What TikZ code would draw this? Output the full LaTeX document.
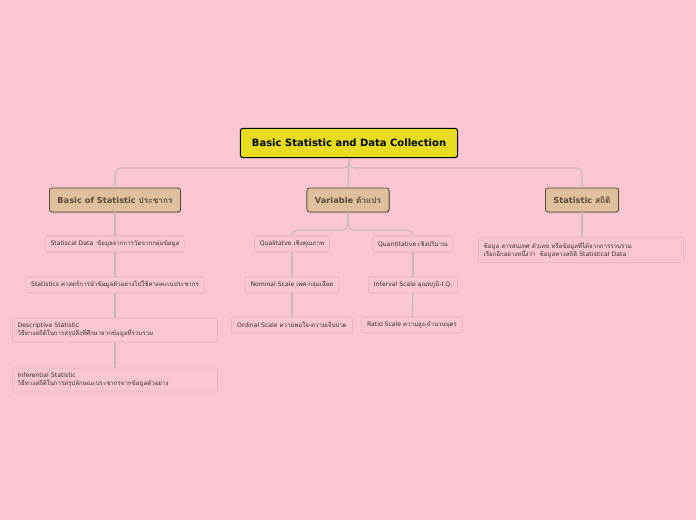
\documentclass[tikz,border=0pt]{standalone}
\usepackage{fontspec}
\setmainfont{DejaVu Sans}
\newfontfamily\thaifont[Script=Thai]{Loma}
\newcommand{\thx}[1]{{\thaifont #1}}
\usetikzlibrary{positioning,shadows}
\definecolor{bgpink}{HTML}{F9C6D1}
\definecolor{rootfill}{HTML}{E8DC1E}
\definecolor{mainfill}{HTML}{E0C09C}
\definecolor{mainline}{HTML}{5A4A3A}
\definecolor{leafline}{HTML}{E6AEBB}
\definecolor{linkgrey}{HTML}{C8B8BC}
\tikzset{
    rootbox/.style={draw=black, fill=rootfill, rounded corners=2pt, line width=0.8pt, minimum width=163pt, minimum height=22pt, font=\bfseries\fontsize{7.5}{9}\selectfont},
    mainbox/.style={draw=mainline, fill=mainfill, rounded corners=2pt, line width=0.6pt, drop shadow={opacity=0.35, shadow xshift=0.6pt, shadow yshift=-0.8pt}, minimum height=18pt, inner xsep=6pt, text=mainline, font=\bfseries\fontsize{6.2}{8}\selectfont},
    leafbox/.style={draw=leafline, fill=bgpink, rounded corners=1.5pt, line width=0.4pt, minimum height=12pt, inner xsep=4pt, font=\fontsize{4.6}{6}\selectfont, text=black!80},
    longleaf/.style={leafbox, text width=146pt, align=left, minimum height=18pt},
    link/.style={draw=linkgrey, line width=0.8pt, rounded corners=4pt}
}
\begin{document}
\begin{tikzpicture}[x=0.75pt, y=-0.75pt]
    \fill[bgpink] (0,0) rectangle (696,520);
    \useasboundingbox (0,0) rectangle (696,520);

    % Main nodes
    \node[rootbox] (root) at (349,143) {Basic Statistic and Data Collection};
    \node[mainbox] (basic) at (115,200) {Basic of Statistic \thx{ประชากร}};
    \node[mainbox] (variable) at (348,200) {Variable \thx{ตัวแปร}};
    \node[mainbox] (stat) at (582,200) {Statistic \thx{สถิติ}};

    % Left branch
    \node[leafbox] (data) at (115,244) {Statiscal Data \ \thx{ข้อมูลจากการวัดจากกลุ่มข้อมูล}};
    \node[leafbox] (statistics) at (115,285) {Statistics \thx{ศาสตร์การนำข้อมูลตัวอย่างไปใช้คาดคะเนประชากร}};
    \node[longleaf] (desc) at (115,330) {Descriptive Statistic \thx{วิธีทางสถิติในการสรุปสิ่งที่ศึกษาจากข้อมูลที่รวบรวม}};
    \node[longleaf] (infer) at (115,380) {Inferential Statistic \thx{วิธีทางสถิติในการสรุปลักษณะประชากรจากข้อมูลตัวอย่าง}};

    % Middle branch
    \node[leafbox] (quali) at (292,244) {Qualitatve \thx{เชิงคุณภาพ}};
    \node[leafbox] (quanti) at (413,244) {Quantitative \thx{เชิงปริมาณ}};
    \node[leafbox] (nominal) at (292,285) {Nominal Scale \thx{เพศ-กลุ่มเลือด}};
    \node[leafbox] (ordinal) at (292,325) {Ordinal Scale \thx{ความพอใจ-ความเจ็บปวด}};
    \node[leafbox] (interval) at (413,285) {Interval Scale \thx{อุณหภูมิ}-I.Q.};
    \node[leafbox] (ratio) at (412,325) {Ratio Scale \thx{ความสูง-จำนวนบุตร}};

    % Right branch
    \node[longleaf] (statdef) at (581,250) {\thx{ข้อมูล สารสนเทศ ตัวเลข หรือข้อมูลที่ได้จากการรวบรวม เรียกอีกอย่างหนึ่งว่า \ ข้อมูลทางสถิติ} Statistical Data};

    % Links
    \draw[link] (root.south) -- (349,168) -| (basic.north);
    \draw[link] (root.south) -- (349,168) -| (stat.north);
    \draw[link] (root.south) -- (variable.north);
    \draw[link] (basic) -- (data);
    \draw[link] (data) -- (statistics);
    \draw[link] (statistics) -- (desc);
    \draw[link] (desc) -- (infer);
    \draw[link] (variable.south) -- (348,230) -| (quali.north);
    \draw[link] (variable.south) -- (348,230) -| (quanti.north);
    \draw[link] (quali) -- (nominal);
    \draw[link] (nominal) -- (ordinal);
    \draw[link] (quanti) -- (interval);
    \draw[link] (interval) -- (ratio);
    \draw[link] (stat.south) -- (statdef.north -| stat.south);
\end{tikzpicture}
\end{document}
